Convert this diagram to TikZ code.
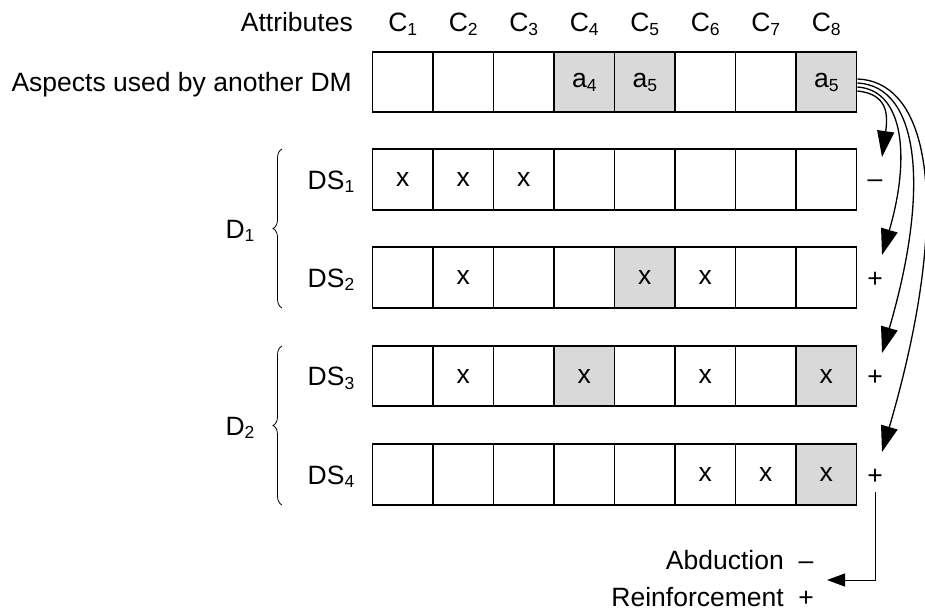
\documentclass[tikz,border=0pt]{standalone}
\usepackage{fontspec}
\setmainfont{Liberation Sans}
\usetikzlibrary{arrows.meta,decorations.pathreplacing}
\newcommand\subx[1]{\raisebox{-0.28ex}{\fontsize{17.5}{17.5}\selectfont #1}}
\begin{document}
\begin{tikzpicture}[x=1pt,y=-1pt,
  font=\fontsize{26.5}{31}\selectfont,
  cell/.style={draw, line width=1.6pt, minimum size=60.5pt, inner sep=0pt, anchor=center},
  shaded/.style={cell, fill=gray!30},
  lbl/.style={inner sep=0pt},
  link/.style={line width=1.3pt, -{Triangle[length=26pt,width=17pt]}},
  brc/.style={decorate, decoration={brace, amplitude=9pt}, line width=0.8pt}]
\useasboundingbox (0,0) rectangle (925,610);

% header
\node[lbl, anchor=base east] (attr) at (353,32) {Attributes};
\foreach \i in {1,...,8}{
  \node[lbl, anchor=base] (c\i) at ({372.5+60.5*(\i-0.5)},32) {C\subx{\i}};
}
% row 0
\node[lbl, anchor=base east] (asp) at (352,91) {Aspects used by another DM};
\foreach \i/\s/\t in {1/cell/{},2/cell/{},3/cell/{},4/shaded/{a\subx{4}},5/shaded/{a\subx{5}},6/cell/{},7/cell/{},8/shaded/{a\subx{5}}}{
  \node[\s] (r0c\i) at ({372.5+60.5*(\i-0.5)},82) {\t};
}
% DS rows
\foreach \i/\s/\t in {1/cell/x,2/cell/x,3/cell/x,4/cell/{},5/cell/{},6/cell/{},7/cell/{},8/cell/{}}{
  \node[\s] (r1c\i) at ({372.5+60.5*(\i-0.5)},179.5) {\t};
}
\foreach \i/\s/\t in {1/cell/{},2/cell/x,3/cell/{},4/cell/{},5/shaded/x,6/cell/x,7/cell/{},8/cell/{}}{
  \node[\s] (r2c\i) at ({372.5+60.5*(\i-0.5)},277.5) {\t};
}
\foreach \i/\s/\t in {1/cell/{},2/cell/x,3/cell/{},4/shaded/x,5/cell/{},6/cell/x,7/cell/{},8/shaded/x}{
  \node[\s] (r3c\i) at ({372.5+60.5*(\i-0.5)},376) {\t};
}
\foreach \i/\s/\t in {1/cell/{},2/cell/{},3/cell/{},4/cell/{},5/cell/{},6/cell/x,7/cell/x,8/shaded/x}{
  \node[\s] (r4c\i) at ({372.5+60.5*(\i-0.5)},474.5) {\t};
}

% DS labels
\node[lbl, anchor=base] (ds1) at (331,189) {DS\subx{1}};
\node[lbl, anchor=base] (ds2) at (331,287) {DS\subx{2}};
\node[lbl, anchor=base] (ds3) at (331,385.5) {DS\subx{3}};
\node[lbl, anchor=base] (ds4) at (331,484) {DS\subx{4}};

% braces and D labels
\draw[brc] (282,308) -- (282,149);
\draw[brc] (282,505) -- (282,346);
\node[lbl, anchor=base] (d1) at (240,238) {D\subx{1}};
\node[lbl, anchor=base] (d2) at (240,435) {D\subx{2}};

% signs
\node[lbl, anchor=base] (s1) at (875,187) {–};
\node[lbl, anchor=base] (s2) at (875,287) {+};
\node[lbl, anchor=base] (s3) at (875,385.5) {+};
\node[lbl, anchor=base] (s4) at (875,484) {+};

% arrow targets
\coordinate (t1) at (882,157);
\coordinate (t2) at (882,255);
\coordinate (t3) at (882,353);
\coordinate (t4) at (882,452);

\draw[link] ([yshift=-9pt]r0c8.east) .. controls (888,94) and (888,115) .. (t1);
\draw[link] ([yshift=-5pt]r0c8.east) .. controls (905,90) and (910,160) .. (t2);
\draw[link] ([yshift=-1pt]r0c8.east) .. controls (920,86) and (930,190) .. (t3);
\draw[link] ([yshift=3pt]r0c8.east) .. controls (935,82) and (950,220) .. (t4);

% legend
\node[lbl, anchor=base east] (abd) at (784,569) {Abduction};
\node[lbl, anchor=base] (abds) at (806,569) {–};
\node[lbl, anchor=base east] (rei) at (784,606) {Reinforcement};
\node[lbl, anchor=base] (reis) at (806,606) {+};
\coordinate (lgs) at (875.7,492);
\coordinate (lge) at (827,580);
\draw[line width=1pt, -{Triangle[length=18pt,width=13pt]}] (lgs) |- (lge);
\end{tikzpicture}
\end{document}
